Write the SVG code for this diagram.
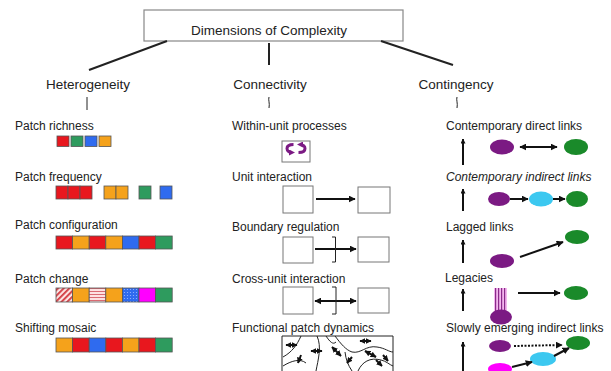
<svg xmlns="http://www.w3.org/2000/svg" width="611" height="371" viewBox="0 0 611 371">
<defs>
<style>
text{font-family:"Liberation Sans",Arial,sans-serif;fill:#222}
.h{font-size:13.5px}
.l{font-size:12px}
.ln{stroke:#222;stroke-width:2;fill:none}
.bx{fill:#fff;stroke:#777;stroke-width:1}
.ar{stroke:#111;stroke-width:2;fill:none}
.sq{stroke:#555;stroke-width:0.8}
.r{fill:#e8171e}.g{fill:#2e9b5e}.b{fill:#2f6bef}.o{fill:#f5a21b}.m{fill:#ff00ff}
.pu{fill:#7b1a83}.gr{fill:#1a8a2a}.cy{fill:#3cc8f0}
.thin{stroke:#222;stroke-width:1;fill:none}
</style>
<marker id="ah" viewBox="0 0 10 10" refX="9" refY="5" markerWidth="7" markerHeight="7" markerUnits="userSpaceOnUse" orient="auto-start-reverse"><path d="M0,0L10,5L0,10z" fill="#111"/></marker>
<marker id="ahs" viewBox="0 0 10 10" refX="9" refY="5" markerWidth="5" markerHeight="5" markerUnits="userSpaceOnUse" orient="auto-start-reverse"><path d="M0,0L10,5L0,10z" fill="#111"/></marker>
<marker id="ahf" viewBox="0 0 10 10" refX="9" refY="5" markerWidth="6" markerHeight="6" markerUnits="userSpaceOnUse" orient="auto-start-reverse"><path d="M0,0L10,5L0,10z" fill="#111"/></marker>
<marker id="ahp" viewBox="0 0 10 10" refX="5" refY="5" markerWidth="6" markerHeight="6" markerUnits="userSpaceOnUse" orient="auto"><path d="M0,0L10,5L0,10z" fill="#7b1a83"/></marker>
<pattern id="hatch" width="4" height="4" patternUnits="userSpaceOnUse" patternTransform="rotate(45)"><rect width="4" height="4" fill="#fbe3e3"/><rect width="1.8" height="4" fill="#d2383f"/></pattern>
<pattern id="hstripe" width="4" height="3" patternUnits="userSpaceOnUse"><rect width="4" height="3" fill="#fde0e0"/><rect width="4" height="1" fill="#d96a72"/></pattern>
<pattern id="dots" width="3" height="3" patternUnits="userSpaceOnUse"><rect width="3" height="3" fill="#2f6bef"/><circle cx="1.5" cy="1.5" r="0.6" fill="#9bb8ff"/></pattern>
<pattern id="vstripe" width="3" height="4" patternUnits="userSpaceOnUse"><rect width="3" height="4" fill="#f3b6ee"/><rect width="1.2" height="4" fill="#8a2a8a"/></pattern>
</defs>
<rect width="611" height="371" fill="#fff"/>

<g id="title">
<rect x="144" y="10" width="259" height="31" fill="#fff" stroke="#888" stroke-width="1.2"/>
<text class="h" x="269" y="35" text-anchor="middle">Dimensions of Complexity</text>
</g>

<g id="connectors">
<path class="ln" d="M167,41L89,70"/>
<path class="ln" d="M269,43L269,65"/>
<path class="ln" d="M381,41L453,65"/>
<path class="thin" d="M87,97L87,110"/>
<path class="thin" d="M269,97C268,100 270,103 269,108"/>
<path class="thin" d="M457,97C456,100 458,103 457,108"/>
</g>

<g id="heterogeneity">
<text class="h" x="88" y="89" text-anchor="middle">Heterogeneity</text>
<g id="patch-richness">
<text class="l" x="15" y="130">Patch richness</text>
<rect class="sq r" x="57" y="136" width="12" height="10.5"/>
<rect class="sq g" x="71" y="136" width="12" height="10.5"/>
<rect class="sq b" x="85" y="136" width="12" height="10.5"/>
<rect class="sq o" x="99" y="136" width="12" height="10.5"/>
</g>
<g id="patch-frequency">
<text class="l" x="15" y="181">Patch frequency</text>
<rect class="sq r" x="56" y="186" width="12" height="13"/>
<rect class="sq r" x="68" y="186" width="12" height="13"/>
<rect class="sq r" x="80" y="186" width="12" height="13"/>
<rect class="sq o" x="104" y="186" width="12" height="13"/>
<rect class="sq o" x="116" y="186" width="12" height="13"/>
<rect class="sq g" x="139" y="186" width="12" height="13"/>
<rect class="sq b" x="160" y="186" width="12" height="13"/>
</g>
<g id="patch-configuration">
<text class="l" x="15" y="229">Patch configuration</text>
<rect class="sq r" x="56" y="236" width="16.6" height="13"/>
<rect class="sq o" x="72.6" y="236" width="16.6" height="13"/>
<rect class="sq r" x="89.2" y="236" width="16.6" height="13"/>
<rect class="sq o" x="105.8" y="236" width="16.6" height="13"/>
<rect class="sq b" x="122.4" y="236" width="16.6" height="13"/>
<rect class="sq r" x="139" y="236" width="16.6" height="13"/>
<rect class="sq g" x="155.6" y="236" width="16.6" height="13"/>
</g>
<g id="patch-change">
<text class="l" x="15" y="283">Patch change</text>
<rect class="sq" fill="url(#hatch)" x="56" y="288" width="16.6" height="14"/>
<rect class="sq o" x="72.6" y="288" width="16.6" height="14"/>
<rect class="sq" fill="url(#hstripe)" x="89.2" y="288" width="16.6" height="14"/>
<rect class="sq o" x="105.8" y="288" width="16.6" height="14"/>
<rect class="sq" fill="url(#dots)" x="122.4" y="288" width="16.6" height="14"/>
<rect class="sq m" x="139" y="288" width="16.6" height="14"/>
<rect class="sq g" x="155.6" y="288" width="16.6" height="14"/>
</g>
<g id="shifting-mosaic">
<text class="l" x="15" y="332">Shifting mosaic</text>
<rect class="sq o" x="56" y="338" width="16.6" height="14"/>
<rect class="sq r" x="72.6" y="338" width="16.6" height="14"/>
<rect class="sq b" x="89.2" y="338" width="16.6" height="14"/>
<rect class="sq r" x="105.8" y="338" width="16.6" height="14"/>
<rect class="sq o" x="122.4" y="338" width="16.6" height="14"/>
<rect class="sq r" x="139" y="338" width="16.6" height="14"/>
<rect class="sq g" x="155.6" y="338" width="16.6" height="14"/>
</g>
</g>

<g id="connectivity">
<text class="h" x="270" y="89" text-anchor="middle">Connectivity</text>
<g id="within-unit">
<text class="l" x="232" y="130">Within-unit processes</text>
<rect class="bx" x="282" y="141" width="28" height="21"/>
<path d="M293.5,144.5C289,144.5 287,146.5 287,148.5C287,150.5 289,152.5 292,152.5" stroke="#7b1a83" stroke-width="3" fill="none" marker-end="url(#ahp)"/>
<path d="M298.5,152.5C303,152.5 305,150.5 305,148.5C305,146.5 303,144.5 300,144.5" stroke="#7b1a83" stroke-width="3" fill="none" marker-end="url(#ahp)"/>
</g>
<g id="unit-interaction">
<text class="l" x="232" y="181">Unit interaction</text>
<rect class="bx" x="283" y="186" width="30" height="27"/>
<rect class="bx" x="358" y="187" width="32" height="26"/>
<path class="ar" d="M316,199L355,199" marker-end="url(#ah)"/>
</g>
<g id="boundary-regulation">
<text class="l" x="232" y="231">Boundary regulation</text>
<rect class="bx" x="283" y="237" width="30" height="26"/>
<rect class="bx" x="358" y="237" width="31" height="25"/>
<path class="ar" d="M315,249L356,249" marker-end="url(#ah)"/>
<path class="thin" stroke-width="1.5" d="M332,237L335.5,237L335.5,262L332,262"/>
</g>
<g id="cross-unit">
<text class="l" x="232" y="283">Cross-unit interaction</text>
<rect class="bx" x="283" y="287" width="30" height="27"/>
<rect class="bx" x="358" y="288" width="31" height="25"/>
<path class="ar" d="M315,301L356,301" marker-start="url(#ah)" marker-end="url(#ah)"/>
<path class="thin" stroke-width="1.5" d="M332,287L336,287L336,314L332,314"/>
</g>
<g id="functional-patch">
<text class="l" x="232" y="332">Functional patch dynamics</text>
<path class="thin" stroke="#444" d="M282,380L282,336L393,336L393,380"/>
<path class="thin" d="M301,336C297,345 292,352 283,357"/>
<path class="thin" d="M317,336C322,347 318,360 316,371"/>
<path class="thin" d="M335,336C341,344 346,350 352,352C361,354 366,345 377,347C385,348 389,352 393,352"/>
<path class="thin" d="M345,352C346,360 348,365 352,371"/>
<path class="thin" d="M358,371C362,362 370,357 381,360C386,361 390,365 393,366"/>
<path class="thin" d="M283,366C291,361 300,358 306,363"/>
<path class="thin" d="M326,336C330,342 333,345 336,342"/>
<path class="ar" stroke-width="1.3" d="M286,345L297,345" marker-start="url(#ahf)" marker-end="url(#ahf)"/>
<path class="ar" stroke-width="1.3" d="M311,351L322,351" marker-start="url(#ahf)" marker-end="url(#ahf)"/>
<path class="ar" stroke-width="1.3" d="M332,347L341,356" marker-start="url(#ahf)" marker-end="url(#ahf)"/>
<path class="ar" stroke-width="1.3" d="M360,341L371,341" marker-start="url(#ahf)" marker-end="url(#ahf)"/>
<path class="ar" stroke-width="1.3" d="M365,351L376,357" marker-start="url(#ahf)" marker-end="url(#ahf)"/>
<path class="ar" stroke-width="1.3" d="M301,355L298,363" marker-end="url(#ahf)"/>
<path class="ar" stroke-width="1.3" d="M352,357L347,363" marker-end="url(#ahf)"/>
<path class="ar" stroke-width="1.3" d="M376,360L382,366" marker-end="url(#ahf)"/>
<path class="ar" stroke-width="1.3" d="M383,355L388,361" marker-end="url(#ahf)"/>
</g>
</g>

<g id="contingency">
<text class="h" x="456" y="89" text-anchor="middle">Contingency</text>
<path class="ar" stroke-width="1.3" d="M463,165L463,139" marker-end="url(#ahs)"/>
<path class="ar" stroke-width="1.3" d="M463,211L463,189" marker-end="url(#ahs)"/>
<path class="ar" stroke-width="1.3" d="M463,263L463,240" marker-end="url(#ahs)"/>
<path class="ar" stroke-width="1.3" d="M463,311L463,289" marker-end="url(#ahs)"/>
<path class="ar" stroke-width="1.3" d="M463,371L463,342" marker-end="url(#ahs)"/>
<g id="direct-links">
<text class="l" x="446" y="130">Contemporary direct links</text>
<ellipse class="pu" cx="502" cy="147" rx="12" ry="7.5"/>
<ellipse class="gr" cx="576" cy="147" rx="12" ry="8"/>
<path class="ar" d="M520,147L557,147" marker-start="url(#ah)" marker-end="url(#ah)"/>
</g>
<g id="indirect-links">
<text class="l" x="446" y="181" font-style="italic">Contemporary indirect links</text>
<ellipse class="pu" cx="499" cy="199" rx="11" ry="7"/>
<ellipse class="cy" cx="541" cy="199" rx="12" ry="7.5"/>
<ellipse class="gr" cx="577" cy="199" rx="11" ry="8"/>
<path class="ar" d="M510,199L528,199" marker-end="url(#ah)"/>
<path class="ar" d="M553,199L565,199" marker-end="url(#ah)"/>
</g>
<g id="lagged-links">
<text class="l" x="446" y="231">Lagged links</text>
<ellipse class="gr" cx="577" cy="237" rx="12" ry="7"/>
<ellipse class="pu" cx="502" cy="261" rx="12" ry="7"/>
<path class="ar" d="M520,257L563,242" marker-end="url(#ah)"/>
</g>
<g id="legacies">
<text class="l" x="445" y="282">Legacies</text>
<rect x="494" y="288" width="13" height="24" fill="url(#vstripe)"/>
<ellipse class="pu" cx="501" cy="317" rx="11" ry="7.5"/>
<ellipse class="gr" cx="576" cy="293" rx="12" ry="7"/>
<path class="ar" d="M518,293L560,293" marker-end="url(#ah)"/>
</g>
<g id="slowly-emerging">
<text class="l" x="446" y="332">Slowly emerging indirect links</text>
<ellipse class="pu" cx="500" cy="346" rx="11" ry="6"/>
<ellipse class="gr" cx="578" cy="343" rx="12" ry="7"/>
<ellipse class="cy" cx="543" cy="359" rx="13" ry="7"/>
<ellipse class="m" cx="500" cy="369" rx="12" ry="6"/>
<path class="ar" stroke-dasharray="2,1.5" d="M514,346L562,345" marker-end="url(#ah)"/>
<path class="ar" d="M512,367L532,362" marker-end="url(#ah)"/>
<path class="ar" d="M554,356L569,348" marker-end="url(#ah)"/>
</g>
</g>
</svg>
